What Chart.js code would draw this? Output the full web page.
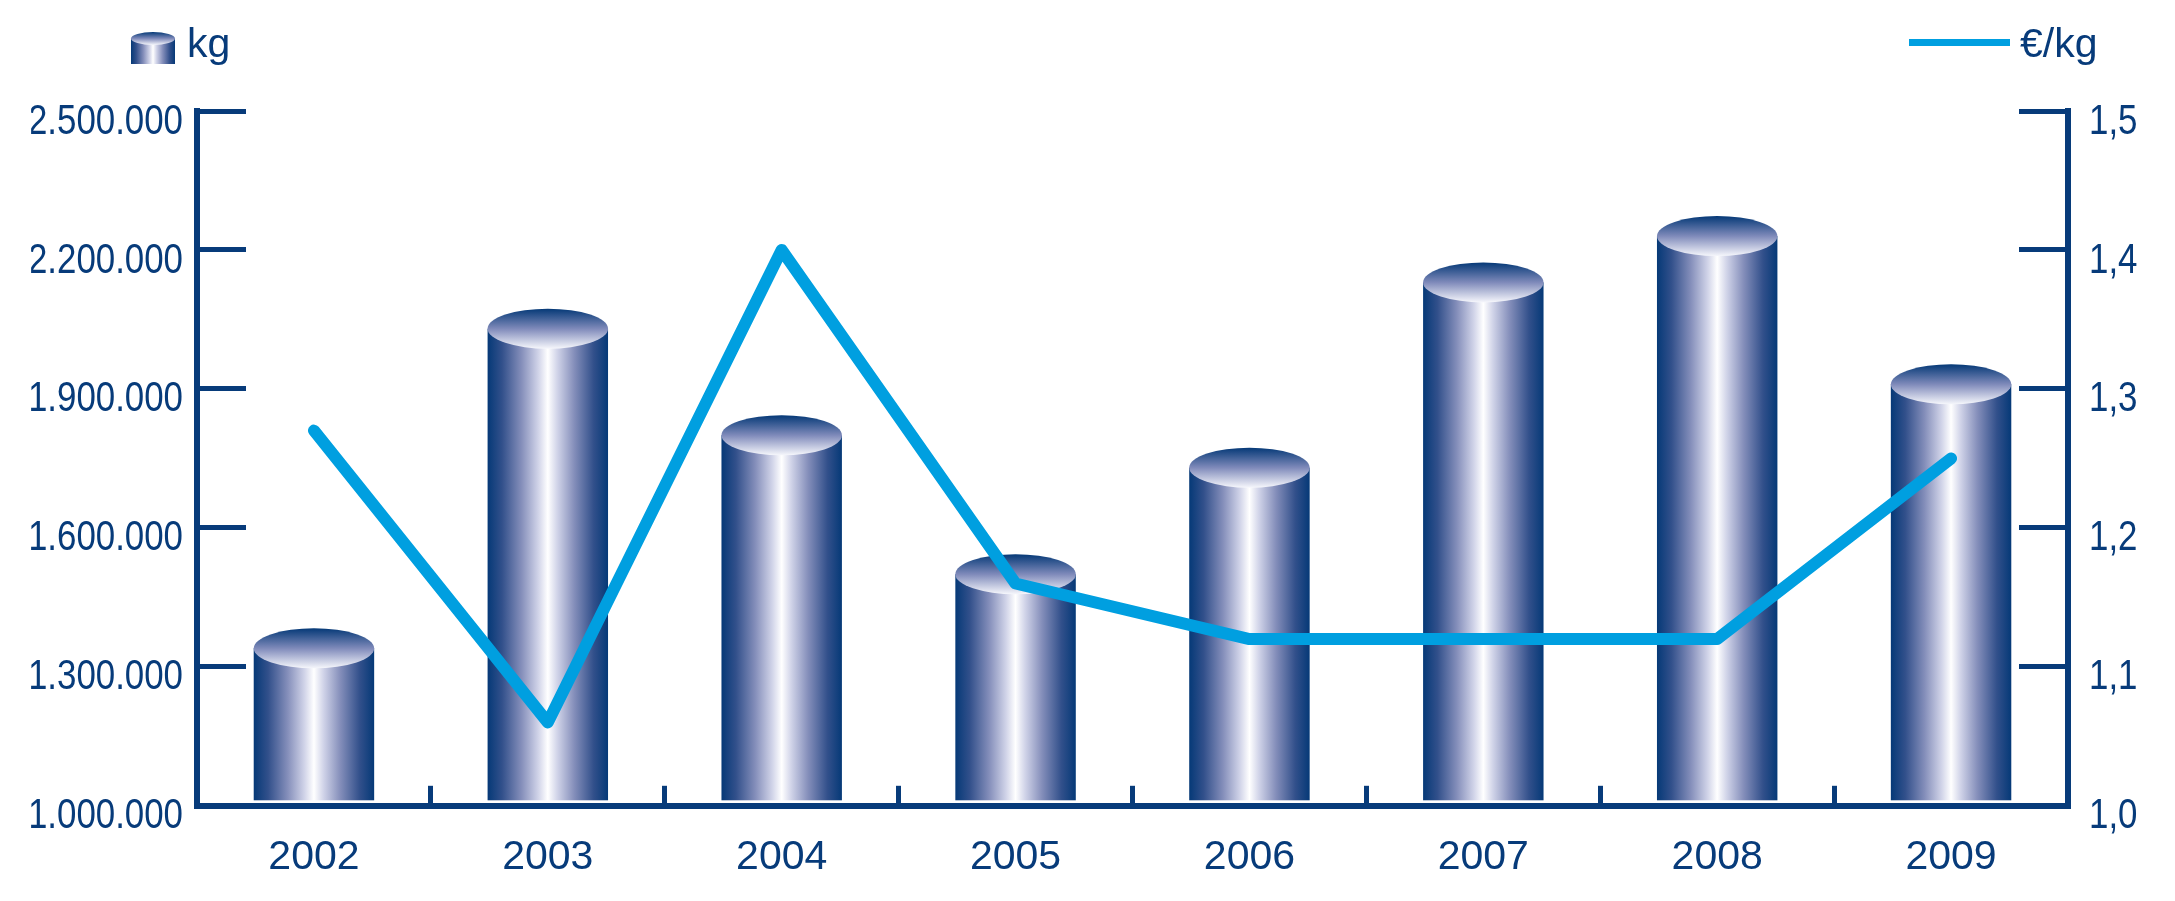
<!DOCTYPE html>
<html>
<head>
<meta charset="utf-8">
<script src="https://cdn.jsdelivr.net/npm/chart.js@4.4.1/dist/chart.umd.min.js"></script>
<style>
  html, body { margin: 0; padding: 0; background: #ffffff; }
  #wrap { position: relative; width: 2175px; height: 901px; }
  #c { position: absolute; left: 0; top: 0; }
  .lg { position: absolute; font-family: "Liberation Sans", Arial, sans-serif; font-size: 41px; line-height: 41px; color: #073b7a; white-space: nowrap; }
  #icon { position: absolute; left: 130px; top: 30px; }
  #lineIcon { position: absolute; left: 1909px; top: 39px; width: 101px; height: 7px; background: #009fe0; }
</style>
</head>
<body>
<div id="wrap">
  <canvas id="c" width="2175" height="901" style="width:2175px;height:901px"></canvas>
  <canvas id="icon" width="46" height="36"></canvas>
  <span class="lg" id="lgKg" style="left:187px; top:23px;"></span>
  <div id="lineIcon"></div>
  <span class="lg" id="lgEur" style="left:2020px; top:23px;"></span>
</div>
<script>
// ---- data ----
const years = ['2002', '2003', '2004', '2005', '2006', '2007', '2008', '2009'];
const kgValues = [1340000, 2030000, 1800000, 1500000, 1730000, 2130000, 2230000, 1910000];
const eurPerKg = [1.27, 1.06, 1.40, 1.16, 1.12, 1.12, 1.12, 1.25];
const kgTicks = [1000000, 1300000, 1600000, 1900000, 2200000, 2500000];
const eurTicks = [1.0, 1.1, 1.2, 1.3, 1.4, 1.5];
const seriesNames = ['kg', '€/kg'];

const NAVY = '#073b7a';
const CYAN = '#009fe0';

document.getElementById('lgKg').textContent = seriesNames[0];
document.getElementById('lgEur').textContent = seriesNames[1];

function fmtKg(v) {
  return String(Math.round(v)).replace(/\B(?=(\d{3})+(?!\d))/g, '.');
}
function fmtEur(v) {
  return Number(v).toFixed(1).replace('.', ',');
}

function drawCylinder(ctx, cx, top, bottom, w, ry) {
  const left = cx - w / 2, right = cx + w / 2;
  const g = ctx.createLinearGradient(left, 0, right, 0);
  g.addColorStop(0.00, '#053977');
  g.addColorStop(0.12, '#32508b');
  g.addColorStop(0.28, '#848eba');
  g.addColorStop(0.42, '#d0d3e8');
  g.addColorStop(0.50, '#ffffff');
  g.addColorStop(0.58, '#d0d3e8');
  g.addColorStop(0.72, '#848eba');
  g.addColorStop(0.88, '#32508b');
  g.addColorStop(1.00, '#053977');
  ctx.save();
  ctx.fillStyle = g;
  ctx.fillRect(left, top, w, bottom - top);
  const g2 = ctx.createLinearGradient(0, top - ry, 0, top + ry);
  g2.addColorStop(0.0, '#053977');
  g2.addColorStop(0.5, '#7f8aba');
  g2.addColorStop(1.0, '#f6f7fc');
  ctx.beginPath();
  ctx.ellipse(cx, top, w / 2, ry, 0, 0, Math.PI * 2);
  ctx.fillStyle = g2;
  ctx.fill();
  ctx.restore();
}

// legend icon
(function () {
  const ic = document.getElementById('icon').getContext('2d');
  drawCylinder(ic, 23, 8.5, 34, 44, 6.5);
})();

const cylinderPlugin = {
  id: 'cylinders',
  afterDatasetDraw(chart, args) {
    if (args.index !== 0) return;
    const ctx = chart.ctx;
    const meta = args.meta;
    meta.data.forEach(el => {
      const p = el.getProps(['x', 'y', 'base', 'width'], true);
      drawCylinder(ctx, p.x, p.y, p.base - 3, p.width, 20);
    });
  }
};

// narrow the vertical-axis tick labels horizontally around their anchor
function squeezeLabels(scale, anchorFn, factor) {
  if (scale._squeezed) return;
  scale._squeezed = true;
  const proto = Object.getPrototypeOf(scale);
  scale.drawLabels = function (ca) {
    const ctx = this.ctx;
    const ax = anchorFn(this);
    ctx.save();
    ctx.translate(ax, 0);
    ctx.scale(factor, 1);
    ctx.translate(-ax, 0);
    proto.drawLabels.call(this, ca);
    ctx.restore();
  };
}

const Y_TICK_LEN = -49;
const Y_PAD_L = 63;
const Y_PAD_R = 70;
const tickFont = { family: '"Liberation Sans", Arial, sans-serif', size: 41 };
const yTickFont = { family: '"Liberation Sans", Arial, sans-serif', size: 42 };

new Chart(document.getElementById('c'), {
  data: {
    labels: years,
    datasets: [
      {
        type: 'bar',
        label: seriesNames[0],
        data: kgValues,
        base: kgTicks[0],
        yAxisID: 'y',
        backgroundColor: 'rgba(0,0,0,0)',
        borderWidth: 0,
        barPercentage: 0.515,
        categoryPercentage: 1,
        order: 1
      },
      {
        type: 'line',
        label: seriesNames[1],
        data: eurPerKg,
        yAxisID: 'y1',
        borderColor: CYAN,
        borderWidth: 12,
        borderJoinStyle: 'round',
        borderCapStyle: 'round',
        pointRadius: 0,
        tension: 0,
        fill: false,
        order: 0
      }
    ]
  },
  options: {
    responsive: false,
    animation: false,
    devicePixelRatio: 1,
    layout: { padding: { top: 111, left: 0, right: 0, bottom: 0 } },
    plugins: { legend: { display: false }, tooltip: { enabled: false } },
    scales: {
      x: {
        type: 'category',
        offset: true,
        grid: { display: true, drawOnChartArea: false, drawTicks: true, tickLength: -20, lineWidth: 5, tickWidth: 5, color: NAVY, tickColor: NAVY, offset: true },
        border: { display: true, color: NAVY, width: 6 },
        ticks: { color: NAVY, font: tickFont, padding: 47, maxRotation: 0, autoSkip: false },
        afterFit(s) { s.height = 90; }
      },
      y: {
        type: 'linear',
        position: 'left',
        min: kgTicks[0],
        max: kgTicks[kgTicks.length - 1],
        afterBuildTicks(s) { s.ticks = kgTicks.map(v => ({ value: v })); },
        grid: { display: true, drawOnChartArea: false, drawTicks: true, tickLength: Y_TICK_LEN, lineWidth: 5, tickWidth: 5, color: NAVY, tickColor: NAVY },
        border: { display: true, color: NAVY, width: 6 },
        ticks: { color: NAVY, font: yTickFont, padding: Y_PAD_L, labelOffset: 11, callback: v => fmtKg(v) },
        afterFit(s) {
          s.width = 197;
          squeezeLabels(s, sc => sc.right - (Y_TICK_LEN + Y_PAD_L), 0.83);
        }
      },
      y1: {
        type: 'linear',
        position: 'right',
        min: eurTicks[0],
        max: eurTicks[eurTicks.length - 1],
        afterBuildTicks(s) { s.ticks = eurTicks.map(v => ({ value: v })); },
        grid: { display: true, drawOnChartArea: false, drawTicks: true, tickLength: Y_TICK_LEN, lineWidth: 5, tickWidth: 5, color: NAVY, tickColor: NAVY },
        border: { display: true, color: NAVY, width: 6 },
        ticks: { color: NAVY, font: yTickFont, padding: Y_PAD_R, labelOffset: 11, callback: v => fmtEur(v) },
        afterFit(s) {
          s.width = 107;
          squeezeLabels(s, sc => sc.left + (Y_TICK_LEN + Y_PAD_R), 0.83);
        }
      }
    }
  },
  plugins: [cylinderPlugin]
});
</script>
</body>
</html>
